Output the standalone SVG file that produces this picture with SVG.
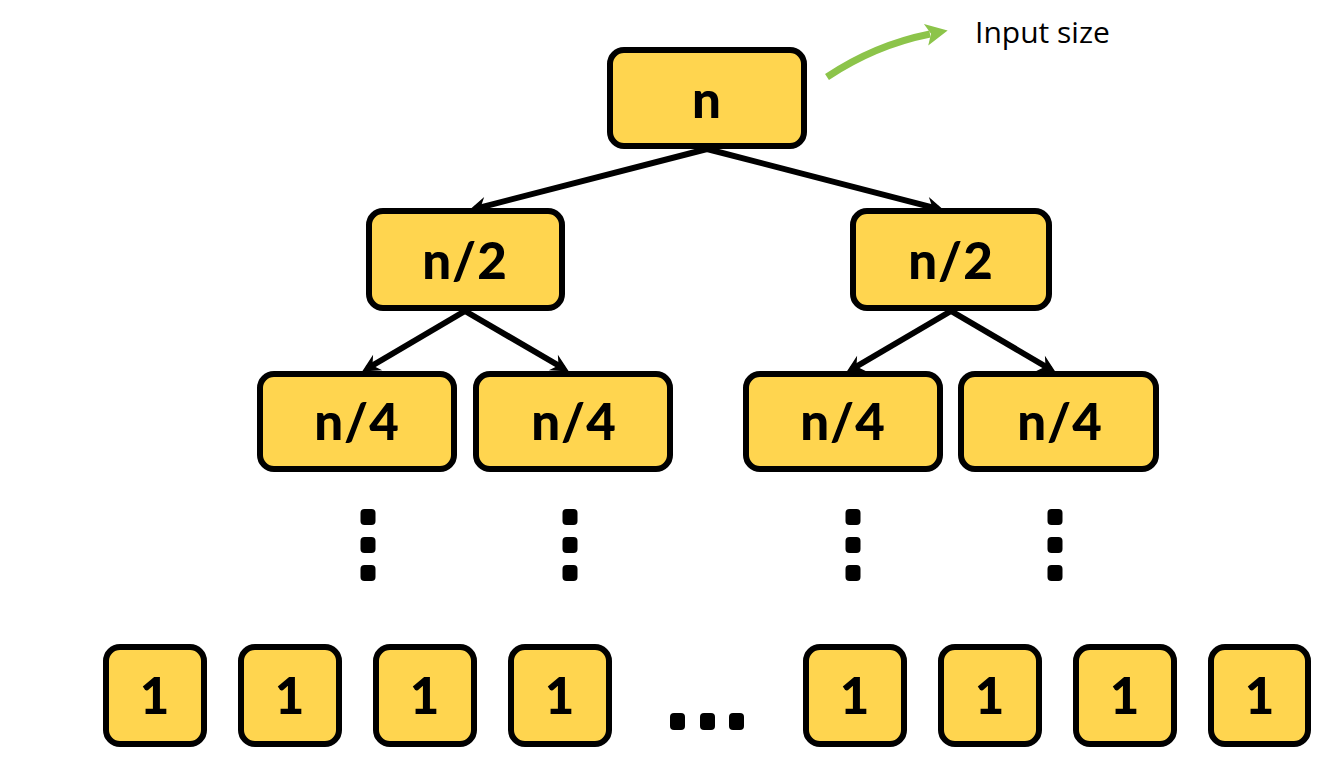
<svg xmlns="http://www.w3.org/2000/svg" width="1330" height="758" viewBox="0 0 1330 758">
<style>
.box{fill:#FFD54F;stroke:#000;stroke-width:6}
.lbl{font-family:Lato,"DejaVu Sans",sans-serif;font-weight:900;font-size:51px;fill:#000;text-anchor:middle;letter-spacing:1px}
.edge{stroke:#000;stroke-width:6;fill:none}
.dot{fill:#000}
</style>
<defs>
<marker id="ah" markerUnits="userSpaceOnUse" markerWidth="22" markerHeight="22" viewBox="0 0 22 22" refX="13" refY="11" orient="auto">
<path d="M19,11 L1,2 L7,11 L1,20 Z" fill="#000"/>
</marker>
<marker id="gh" markerUnits="userSpaceOnUse" markerWidth="26" markerHeight="26" viewBox="0 0 26 26" refX="6" refY="13" orient="auto">
<path d="M24,13 L2,2 L7,13 L2,24 Z" fill="#8CC44A"/>
</marker>
</defs>
<rect width="1330" height="758" fill="#fff"/>
<g id="connectors">
<line class="edge" x1="707" y1="149" x2="474.8" y2="208.8" marker-end="url(#ah)"/>
<line class="edge" x1="707" y1="149" x2="938.2" y2="208.8" marker-end="url(#ah)"/>
<line class="edge" x1="465" y1="311" x2="367.3" y2="368.5" marker-end="url(#ah)"/>
<line class="edge" x1="465" y1="311" x2="563.7" y2="368.5" marker-end="url(#ah)"/>
<line class="edge" x1="951" y1="311" x2="851.3" y2="369.5" marker-end="url(#ah)"/>
<line class="edge" x1="951" y1="311" x2="1050.7" y2="369.5" marker-end="url(#ah)"/>
<path d="M827,77 Q875,45 930,34" stroke="#8CC44A" stroke-width="7" fill="none" marker-end="url(#gh)"/>
</g>
<g id="root"><rect class="box" x="610" y="50" width="194" height="96" rx="14"/><text class="lbl" x="707" y="118">n</text></g>
<text x="975" y="43" font-family="'Open Sans','Liberation Sans',sans-serif" font-size="30" fill="#000">Input size</text>
<g id="h1"><rect class="box" x="369" y="211" width="193" height="97" rx="14"/><text class="lbl" x="465" y="279">n/2</text></g>
<g id="h2"><rect class="box" x="853" y="211" width="196" height="97" rx="14"/><text class="lbl" x="951" y="279">n/2</text></g>
<g id="q1"><rect class="box" x="260" y="374" width="194" height="95" rx="14"/><text class="lbl" x="357" y="440">n/4</text></g>
<g id="q2"><rect class="box" x="476" y="374" width="194" height="95" rx="14"/><text class="lbl" x="574" y="440">n/4</text></g>
<g id="q3"><rect class="box" x="746" y="374" width="194" height="95" rx="14"/><text class="lbl" x="843" y="440">n/4</text></g>
<g id="q4"><rect class="box" x="961" y="374" width="195" height="95" rx="14"/><text class="lbl" x="1060" y="440">n/4</text></g>
<g id="vdots">
<rect class="dot" x="360.5" y="509" width="15" height="16" rx="4"/>
<rect class="dot" x="360.5" y="537" width="15" height="16" rx="4"/>
<rect class="dot" x="360.5" y="565" width="15" height="16" rx="4"/>
<rect class="dot" x="562.5" y="509" width="15" height="16" rx="4"/>
<rect class="dot" x="562.5" y="537" width="15" height="16" rx="4"/>
<rect class="dot" x="562.5" y="565" width="15" height="16" rx="4"/>
<rect class="dot" x="845.5" y="509" width="15" height="16" rx="4"/>
<rect class="dot" x="845.5" y="537" width="15" height="16" rx="4"/>
<rect class="dot" x="845.5" y="565" width="15" height="16" rx="4"/>
<rect class="dot" x="1047.5" y="509" width="15" height="16" rx="4"/>
<rect class="dot" x="1047.5" y="537" width="15" height="16" rx="4"/>
<rect class="dot" x="1047.5" y="565" width="15" height="16" rx="4"/>
</g>
<g id="leaf1"><rect class="box" x="106" y="647" width="98" height="97" rx="14"/><text class="lbl" x="155" y="714">1</text></g>
<g id="leaf2"><rect class="box" x="241" y="647" width="98" height="97" rx="14"/><text class="lbl" x="290" y="714">1</text></g>
<g id="leaf3"><rect class="box" x="376" y="647" width="98" height="97" rx="14"/><text class="lbl" x="425" y="714">1</text></g>
<g id="leaf4"><rect class="box" x="511" y="647" width="98" height="97" rx="14"/><text class="lbl" x="560" y="714">1</text></g>
<g id="ellipsis">
<rect class="dot" x="670" y="713" width="15" height="17" rx="4"/>
<rect class="dot" x="700" y="713" width="15" height="17" rx="4"/>
<rect class="dot" x="729" y="713" width="15" height="17" rx="4"/>
</g>
<g id="leaf5"><rect class="box" x="806" y="647" width="98" height="97" rx="14"/><text class="lbl" x="855" y="714">1</text></g>
<g id="leaf6"><rect class="box" x="941" y="647" width="98" height="97" rx="14"/><text class="lbl" x="990" y="714">1</text></g>
<g id="leaf7"><rect class="box" x="1076" y="647" width="98" height="97" rx="14"/><text class="lbl" x="1125" y="714">1</text></g>
<g id="leaf8"><rect class="box" x="1211" y="647" width="97" height="97" rx="14"/><text class="lbl" x="1260" y="714">1</text></g>
</svg>
